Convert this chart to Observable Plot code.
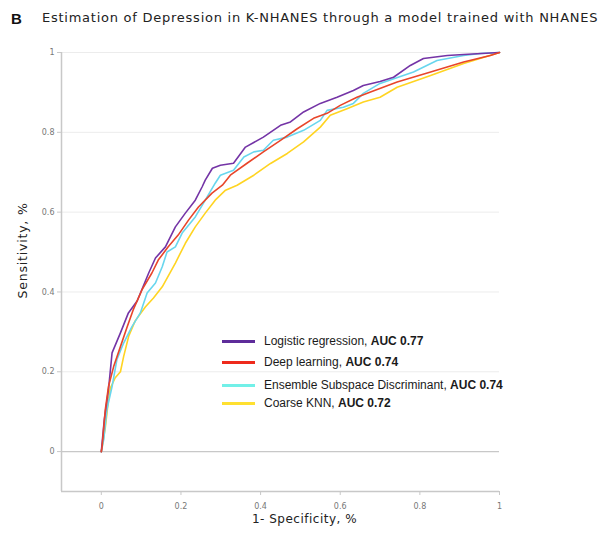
<!DOCTYPE html>
<html>
<head>
<meta charset="utf-8">
<script src="https://cdn.jsdelivr.net/npm/d3@7"></script>
<script src="https://cdn.jsdelivr.net/npm/@observablehq/plot@0.6"></script>
<style>
  html, body { margin: 0; padding: 0; background: #fff; }
  #wrap { position: relative; width: 605px; height: 534px; overflow: hidden; }
  #title { position: absolute; left: 0; top: 0; width: 605px; height: 38px; white-space: nowrap; }
  #title .b { position: absolute; left: 11px; top: 10px; font: bold 15px "Liberation Sans", Arial, sans-serif; color: #111; }
  #title .t { position: absolute; left: 42px; top: 10px; font: 13px "DejaVu Sans", Verdana, sans-serif; letter-spacing: 0.75px; color: #222; }
  #chart { position: absolute; left: 0; top: 38px; }
  #legend { position: absolute; left: 222px; top: 333px; font: 12px "Liberation Sans", Arial, sans-serif; color: #1a1a1a; }
  #legend .row { position: absolute; left: 0; height: 16px; white-space: nowrap; }
  #legend .sw { position: absolute; left: 0; top: 7px; width: 33px; height: 3px; }
  #legend .lb { position: absolute; left: 42px; top: 0; line-height: 16px; }
  #legend b { font-weight: bold; }
</style>
</head>
<body>
<div id="wrap">
  <div id="title"><span class="b">B</span><span class="t">Estimation of Depression in K-NHANES through a model trained with NHANES</span></div>
  <div id="chart"></div>
  <div id="legend"></div>
</div>
<script>
const seriesNames = ["Logistic regression", "Deep learning", "Ensemble Subspace Discriminant", "Coarse KNN"];
const aucValues = ["AUC 0.77", "AUC 0.74", "AUC 0.74", "AUC 0.72"];
const seriesColors = ["#7434a6", "#e8452a", "#68d6ee", "#ffd422"];
const legendColors = ["#5e2c9a", "#ee2a1c", "#72f0e8", "#ffe030"];

const xTicks = [0, 0.2, 0.4, 0.6, 0.8, 1];
const yTicks = [0, 0.2, 0.4, 0.6, 0.8, 1];
const xLabel = "1- Specificity, %";
const yLabel = "Sensitivity, %";

// [1-specificity, sensitivity]
const logistic = [
  [0,0],[0.0075,0.08],[0.018,0.155],[0.027,0.2475],[0.048,0.2975],[0.068,0.3475],[0.09,0.3775],
  [0.119,0.4475],[0.136,0.485],[0.161,0.513],[0.186,0.563],[0.211,0.5975],[0.236,0.63],[0.253,0.663],
  [0.261,0.68],[0.279,0.71],[0.299,0.7175],[0.332,0.7225],[0.362,0.763],[0.407,0.788],[0.45,0.8175],
  [0.475,0.826],[0.508,0.851],[0.55,0.8725],[0.592,0.888],[0.633,0.905],[0.658,0.9175],[0.70,0.9275],
  [0.734,0.938],[0.776,0.9675],[0.809,0.985],[0.869,0.9925],[0.91,0.995],[1,1]
];
const deepLearning = [
  [0,0],[0.002,0.013],[0.01,0.105],[0.018,0.163],[0.031,0.213],[0.048,0.263],[0.065,0.313],[0.08,0.355],
  [0.102,0.405],[0.127,0.4475],[0.143,0.48],[0.168,0.513],[0.193,0.5425],[0.219,0.58],[0.244,0.613],
  [0.278,0.6475],[0.304,0.6675],[0.324,0.6925],[0.366,0.7225],[0.407,0.751],[0.45,0.78],[0.492,0.809],
  [0.533,0.835],[0.567,0.8475],[0.60,0.8675],[0.642,0.888],[0.676,0.901],[0.743,0.926],[0.827,0.951],
  [0.91,0.976],[0.977,0.9925],[1,1]
];
const ensemble = [
  [0,0],[0.006,0.03],[0.014,0.105],[0.027,0.163],[0.039,0.23],[0.056,0.272],[0.077,0.313],[0.098,0.3475],
  [0.115,0.3975],[0.136,0.4225],[0.153,0.463],[0.165,0.50],[0.186,0.513],[0.203,0.5475],[0.236,0.588],
  [0.261,0.63],[0.286,0.6725],[0.299,0.6925],[0.332,0.705],[0.358,0.738],[0.383,0.751],[0.407,0.755],
  [0.432,0.78],[0.467,0.788],[0.508,0.805],[0.55,0.83],[0.567,0.855],[0.608,0.863],[0.633,0.8725],
  [0.658,0.8975],[0.70,0.9225],[0.784,0.951],[0.843,0.98],[0.91,0.9925],[0.952,0.9975],[1,1]
];
const coarseKNN = [
  [0,0],[0.005,0.03],[0.01,0.06],[0.018,0.13],[0.023,0.16],[0.035,0.185],[0.048,0.20],[0.056,0.238],
  [0.069,0.29],[0.085,0.3275],[0.111,0.363],[0.131,0.385],[0.153,0.413],[0.186,0.4725],[0.211,0.522],
  [0.236,0.563],[0.261,0.5975],[0.286,0.63],[0.312,0.655],[0.341,0.6675],[0.383,0.6925],[0.425,0.722],
  [0.467,0.747],[0.508,0.776],[0.55,0.813],[0.575,0.8425],[0.617,0.859],[0.658,0.876],[0.70,0.888],
  [0.743,0.913],[0.827,0.9425],[0.91,0.9725],[1,1]
];

const allSeries = [logistic, deepLearning, ensemble, coarseKNN];
const rows = allSeries.flatMap((pts, i) => pts.map(([x, y]) => ({series: seriesNames[i], x, y})));
const drawOrder = [3, 2, 0, 1];

const plot = Plot.plot({
  width: 605,
  height: 496,
  marginLeft: 61,
  marginRight: 106,
  marginTop: 14,
  marginBottom: 43,
  style: {background: "#fff", fontFamily: "'DejaVu Sans', Verdana, sans-serif"},
  x: {domain: [-0.1, 1]},
  y: {domain: [-0.1, 1]},
  color: {domain: seriesNames, range: seriesColors},
  marks: [
    Plot.ruleY(yTicks.filter(d => d !== 0), {x1: -0.1, x2: 1, stroke: "#ececec", strokeWidth: 1}),
    Plot.ruleY([0], {x1: -0.1, x2: 1, stroke: "#c8c8c8", strokeWidth: 1.2}),
    Plot.ruleX([-0.1], {y1: -0.1, y2: 1, stroke: "#c8c8c8", strokeWidth: 1.5}),
    Plot.ruleY([-0.1], {x1: -0.1, x2: 1, stroke: "#c8c8c8", strokeWidth: 1.5}),
    Plot.axisX({ticks: xTicks, tickFormat: d => String(d), tickSize: 4, tickPadding: 8, fontSize: 8, color: "#777", label: null, stroke: "#c8c8c8"}),
    Plot.axisY({ticks: yTicks, tickFormat: d => String(d), tickSize: 4, tickPadding: 3, fontSize: 8, color: "#777", label: null, stroke: "#c8c8c8"}),
    ...drawOrder.map(i => Plot.line(rows.filter(r => r.series === seriesNames[i]), {
      x: "x", y: "y", stroke: "series", strokeWidth: 1.6, curve: "linear"
    })),
    Plot.text([xLabel], {frameAnchor: "bottom", textAnchor: "middle", dx: 24, dy: 31, text: d => d, fontSize: 12, fill: "#222"}),
    Plot.text([yLabel], {frameAnchor: "left", textAnchor: "middle", dx: -39, dy: -21.5, rotate: -90, text: d => d, fontSize: 12.5, fill: "#222"})
  ]
});
d3.select(plot).selectAll("text").filter(function() { return this.textContent === xLabel; }).attr("letter-spacing", "0.5px");
d3.select(plot).selectAll("text").filter(function() { return this.textContent === yLabel; }).attr("letter-spacing", "0.8px");
document.getElementById("chart").appendChild(plot);

const rowTops = [0, 21, 44, 62];
const legend = document.getElementById("legend");
seriesNames.forEach((name, i) => {
  const r = document.createElement("div");
  r.className = "row";
  r.style.top = rowTops[i] + "px";
  r.innerHTML = `<div class="sw" style="background:${legendColors[i]}"></div><div class="lb">${name}, <b>${aucValues[i]}</b></div>`;
  legend.appendChild(r);
});
</script>
</body>
</html>
